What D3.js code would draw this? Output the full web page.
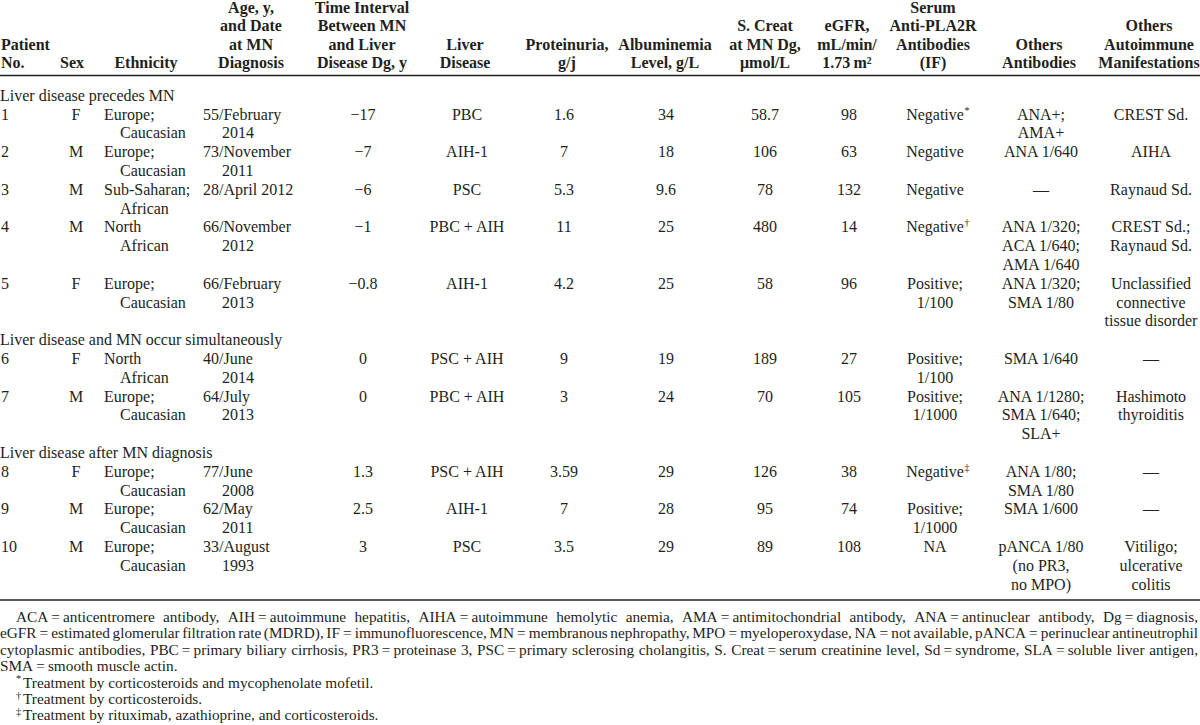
<!DOCTYPE html>
<html><head><meta charset="utf-8">
<script src="https://cdn.jsdelivr.net/npm/d3@7"></script>
<style>
html,body{margin:0;padding:0;background:#fff;}
svg{display:block;}
text{font-family:"Liberation Serif","Times New Roman",serif;fill:#231f20;}
</style></head><body>
<svg id="chart" width="1200" height="725"></svg>
<script>
// ---------------- DATA ----------------
const headers = [
  ["Patient","No."],["Sex"],["Ethnicity"],
  ["Age, y,","and Date","at MN","Diagnosis"],
  ["Time Interval","Between MN","and Liver","Disease Dg, y"],
  ["Liver","Disease"],["Proteinuria,","g/j"],["Albuminemia","Level, g/L"],
  ["S. Creat","at MN Dg,","\u03bcmol/L"],["eGFR,","mL/min/","1.73\u2009m\u00b2"],
  ["Serum","Anti-PLA2R","Antibodies","(IF)"],["Others","Antibodies"],
  ["Others","Autoimmune","Manifestations"]
];
const sectionLabels = ["Liver disease precedes MN","Liver disease and MN occur simultaneously","Liver disease after MN diagnosis"];
const sectionOf = [0,0,0,0,0,1,1,2,2,2];
const patientNo = ["1","2","3","4","5","6","7","8","9","10"];
const sex = ["F","M","M","M","F","F","M","F","M","M"];
const ethnicity = [["Europe;","Caucasian"],["Europe;","Caucasian"],["Sub-Saharan;","African"],["North","African"],["Europe;","Caucasian"],
  ["North","African"],["Europe;","Caucasian"],["Europe;","Caucasian"],["Europe;","Caucasian"],["Europe;","Caucasian"]];
const ageDate = [["55/February","2014"],["73/November","2011"],["28/April 2012"],["66/November","2012"],["66/February","2013"],
  ["40/June","2014"],["64/July","2013"],["77/June","2008"],["62/May","2011"],["33/August","1993"]];
const interval = ["\u221217","\u22127","\u22126","\u22121","\u22120.8","0","0","1.3","2.5","3"];
const liverDisease = ["PBC","AIH-1","PSC","PBC + AIH","AIH-1","PSC + AIH","PBC + AIH","PSC + AIH","AIH-1","PSC"];
const proteinuria = ["1.6","7","5.3","11","4.2","9","3","3.59","7","3.5"];
const albumin = ["34","18","9.6","25","25","19","24","29","28","29"];
const sCreat = ["58.7","106","78","480","58","189","70","126","95","89"];
const eGFR = ["98","63","132","14","96","27","105","38","74","108"];
const antiPLA2R = [["Negative"],["Negative"],["Negative"],["Negative"],["Positive;","1/100"],
  ["Positive;","1/100"],["Positive;","1/1000"],["Negative"],["Positive;","1/1000"],["NA"]];
const pla2rMarker = ["*","","","\u2020","","","","\u2021","",""];
const otherAntibodies = [["ANA+;","AMA+"],["ANA 1/640"],["\u2014"],["ANA 1/320;","ACA 1/640;","AMA 1/640"],["ANA 1/320;","SMA 1/80"],
  ["SMA 1/640"],["ANA 1/1280;","SMA 1/640;","SLA+"],["ANA 1/80;","SMA 1/80"],["SMA 1/600"],["pANCA 1/80","(no PR3,","no MPO)"]];
const otherAutoimmune = [["CREST Sd."],["AIHA"],["Raynaud Sd."],["CREST Sd.;","Raynaud Sd."],["Unclassified","connective","tissue disorder"],
  ["\u2014"],["Hashimoto","thyroiditis"],["\u2014"],["\u2014"],["Vitiligo;","ulcerative","colitis"]];
const footnoteLines = [
  "ACA\u2009=\u2009anticentromere antibody, AIH\u2009=\u2009autoimmune hepatitis, AIHA\u2009=\u2009autoimmune hemolytic anemia, AMA\u2009=\u2009antimitochondrial antibody, ANA\u2009=\u2009antinuclear antibody, Dg\u2009=\u2009diagnosis,",
  "eGFR\u2009=\u2009estimated glomerular filtration rate (MDRD), IF\u2009=\u2009immunofluorescence, MN\u2009=\u2009membranous nephropathy, MPO\u2009=\u2009myeloperoxydase, NA\u2009=\u2009not available, pANCA\u2009=\u2009perinuclear antineutrophil",
  "cytoplasmic antibodies, PBC\u2009=\u2009primary biliary cirrhosis, PR3\u2009=\u2009proteinase 3, PSC\u2009=\u2009primary sclerosing cholangitis, S. Creat\u2009=\u2009serum creatinine level, Sd\u2009=\u2009syndrome, SLA\u2009=\u2009soluble liver antigen,",
  "SMA\u2009=\u2009smooth muscle actin."
];
const treatmentMarkers = ["*","\u2020","\u2021"];
const treatmentNotes = ["Treatment by corticosteroids and mycophenolate mofetil.","Treatment by corticosteroids.","Treatment by rituximab, azathioprine, and corticosteroids."];

// ---------------- LAYOUT ----------------
const W = 1200, FS = 16, FFS = 15.3;
const svg = d3.select("#chart");
// column layout: anchor, x, indent for continuation lines, header center
const cols = [
  {a:"start", x:1, ha:"start", hx:1}, {a:"middle", x:76, hx:72}, {a:"start", x:104, ind:16, hx:146},
  {a:"start", x:203, ind:19, hx:251}, {a:"middle", x:363, hx:362}, {a:"middle", x:467, hx:465},
  {a:"middle", x:564, hx:567}, {a:"middle", x:666, hx:665}, {a:"middle", x:765, hx:765},
  {a:"middle", x:849, hx:847}, {a:"middle", x:935, hx:933}, {a:"middle", x:1041, hx:1039},
  {a:"middle", x:1151, hx:1149}
];
const asLines = v => Array.isArray(v) ? v : [v];
const cellData = patientNo.map((_, i) => [
  patientNo[i], sex[i], ethnicity[i], ageDate[i], interval[i], liverDisease[i], proteinuria[i],
  albumin[i], sCreat[i], eGFR[i], antiPLA2R[i], otherAntibodies[i], otherAutoimmune[i]
].map(asLines));

// slot assignment
let slot = 0, lastSec = -1;
const secSlots = [], rowSlots = [];
cellData.forEach((cells, i) => {
  if (sectionOf[i] !== lastSec) { secSlots.push(slot); slot++; lastSec = sectionOf[i]; }
  rowSlots.push(slot);
  slot += d3.max(cells, c => c.length);
});
const y = d3.scaleLinear().domain([0, 1]).range([95.5, 95.5 + 18.8]);
const base = c => c + FS * 0.33;

// header (bottom-aligned)
const hy = d3.scaleLinear().domain([0, 1]).range([63.2, 63.2 - 18.5]);
headers.forEach((lines, ci) => {
  const c = cols[ci];
  const n = lines.length;
  lines.forEach((t, li) => {
    svg.append("text").attr("x", c.hx).attr("y", base(hy(n - 1 - li)))
      .attr("text-anchor", c.ha || "middle")
      .attr("font-size", FS).attr("font-weight", "bold").text(t);
  });
});
svg.append("line").attr("x1", 0).attr("x2", W).attr("y1", 75.5).attr("y2", 75.5).attr("stroke", "#231f20").attr("stroke-width", 1.6);

// sections
secSlots.forEach((s, k) => {
  svg.append("text").attr("x", 0).attr("y", base(y(s))).attr("font-size", FS).text(sectionLabels[k]);
});

// rows
cellData.forEach((cells, i) => {
  cells.forEach((lines, ci) => {
    const c = cols[ci];
    lines.forEach((t, li) => {
      const tx = svg.append("text").attr("x", c.x + (li > 0 && c.ind ? c.ind : 0))
        .attr("y", base(y(rowSlots[i] + li))).attr("text-anchor", c.a).attr("font-size", FS).text(t);
      if (ci === 10 && li === 0 && pla2rMarker[i]) {
        const w = tx.node().getComputedTextLength();
        svg.append("text").attr("x", c.x + w / 2 + 0.5).attr("y", base(y(rowSlots[i])) - 6)
          .attr("font-size", 10).text(pla2rMarker[i]);
      }
    });
  });
});
svg.append("line").attr("x1", 0).attr("x2", W).attr("y1", 600).attr("y2", 600).attr("stroke", "#231f20").attr("stroke-width", 1.6);

// footnotes
const fy = d3.scaleLinear().domain([0, 1]).range([617, 617 + 16.4]);
const fbase = c => c + FFS * 0.33;
function placeLine(text, x0, x1, yy, justify) {
  const tokens = text.split(" ");
  const nodes = tokens.map(t => svg.append("text").attr("y", yy).attr("font-size", FFS).text(t));
  const widths = nodes.map(n => n.node().getComputedTextLength());
  const sum = d3.sum(widths);
  const gap = justify && tokens.length > 1 ? Math.max(1.5, (x1 - x0 - sum) / (tokens.length - 1)) : FFS * 0.25;
  let x = x0;
  nodes.forEach((n, k) => { n.attr("x", x); x += widths[k] + gap; });
}
footnoteLines.forEach((t, k) => {
  placeLine(t, k === 0 ? 16 : 0, 1198, fbase(fy(k)), k < footnoteLines.length - 1);
});
treatmentNotes.forEach((t, k) => {
  const yy = fbase(fy(footnoteLines.length + k));
  svg.append("text").attr("x", 16).attr("y", yy - 5.5).attr("font-size", 10.5).text(treatmentMarkers[k]);
  svg.append("text").attr("x", 23).attr("y", yy).attr("font-size", FFS).text(t);
});
</script>
</body></html>
